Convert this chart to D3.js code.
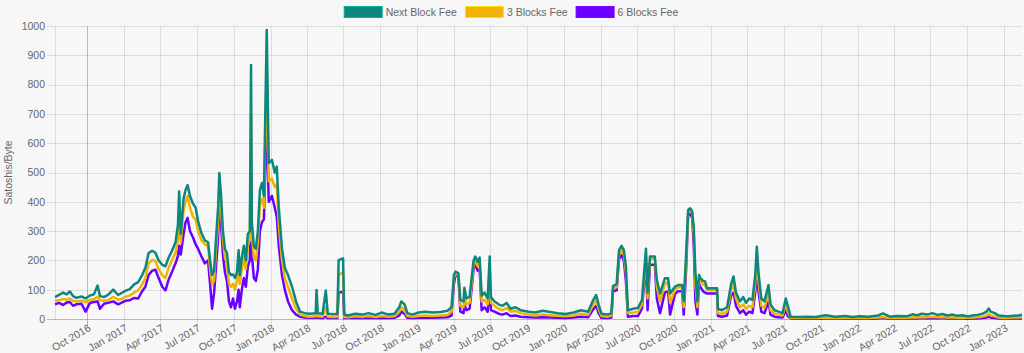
<!DOCTYPE html>
<html>
<head>
<meta charset="utf-8">
<script src="https://cdn.jsdelivr.net/npm/d3@7"></script>
<style>
    html, body { margin: 0; padding: 0; background: #f7f7f7; }
    svg { display: block; }
</style>
</head>
<body>
<div id="chart"></div>
<script>
/*global d3*/
(function () {
    'use strict';

    // one row per year block
    var dates = [
        '2016-07-13', '2016-07-23', '2016-08-02', '2016-08-11', '2016-08-19', '2016-08-27', '2016-09-04', '2016-09-17', '2016-09-27', '2016-10-08',
        '2016-10-18', '2016-10-27', '2016-11-02', '2016-11-12', '2016-11-22', '2016-12-05', '2016-12-17', '2016-12-25',
        '2017-01-04', '2017-01-15', '2017-01-26', '2017-02-05', '2017-02-15', '2017-02-23', '2017-03-03', '2017-03-12', '2017-03-20', '2017-03-28',
        '2017-04-06', '2017-04-14', '2017-04-22', '2017-04-30', '2017-05-09', '2017-05-15', '2017-05-18', '2017-05-22', '2017-05-29', '2017-06-03',
        '2017-06-08', '2017-06-14', '2017-06-21', '2017-06-28', '2017-07-04', '2017-07-12', '2017-07-21', '2017-07-29', '2017-08-03', '2017-08-08',
        '2017-08-13', '2017-08-18', '2017-08-23', '2017-08-26', '2017-08-30', '2017-09-04', '2017-09-09', '2017-09-14', '2017-09-19', '2017-09-24',
        '2017-09-29', '2017-10-04', '2017-10-09', '2017-10-13', '2017-10-16', '2017-10-21', '2017-10-26', '2017-10-31', '2017-11-05', '2017-11-10',
        '2017-11-13', '2017-11-15', '2017-11-20', '2017-11-25', '2017-11-30', '2017-12-05', '2017-12-10', '2017-12-15', '2017-12-22', '2017-12-27',
        '2018-01-04', '2018-01-11', '2018-01-16', '2018-01-21', '2018-01-29', '2018-02-05', '2018-02-13', '2018-02-23', '2018-03-05', '2018-03-15',
        '2018-03-27', '2018-04-08', '2018-04-23', '2018-04-25', '2018-04-28', '2018-05-10', '2018-05-18', '2018-05-23', '2018-06-07', '2018-06-16', '2018-06-19',
        '2018-06-30', '2018-07-03', '2018-07-12', '2018-07-30', '2018-08-17', '2018-09-01', '2018-09-19', '2018-10-04', '2018-10-21', '2018-11-05',
        '2018-11-17', '2018-11-22', '2018-11-30', '2018-12-07', '2018-12-20',
        '2019-01-04', '2019-01-21', '2019-02-08', '2019-02-28', '2019-03-17', '2019-03-27', '2019-04-02', '2019-04-06', '2019-04-13', '2019-04-18',
        '2019-04-26', '2019-04-28', '2019-05-03', '2019-05-11', '2019-05-21', '2019-05-25', '2019-05-31', '2019-06-05', '2019-06-10', '2019-06-17',
        '2019-06-25', '2019-06-30', '2019-07-03', '2019-07-12', '2019-07-22', '2019-08-01', '2019-08-11', '2019-08-21', '2019-09-02', '2019-09-15',
        '2019-10-05', '2019-10-22', '2019-11-09', '2019-11-28', '2019-12-16',
        '2020-01-05', '2020-01-25', '2020-02-12', '2020-03-01', '2020-03-12', '2020-03-21', '2020-03-27', '2020-04-03', '2020-04-19', '2020-04-28',
        '2020-05-02', '2020-05-11', '2020-05-17', '2020-05-23', '2020-05-29', '2020-06-03', '2020-06-08', '2020-06-21', '2020-07-03', '2020-07-13',
        '2020-07-23', '2020-07-27', '2020-08-02', '2020-08-14', '2020-08-19', '2020-08-27', '2020-09-08', '2020-09-16', '2020-09-21', '2020-10-03',
        '2020-10-11', '2020-10-21', '2020-10-25', '2020-10-31', '2020-11-05', '2020-11-10', '2020-11-15', '2020-11-19', '2020-11-23', '2020-11-28',
        '2020-12-02', '2020-12-05', '2020-12-12', '2020-12-17', '2020-12-22',
        '2021-01-16', '2021-01-18', '2021-01-28', '2021-02-10', '2021-02-20', '2021-02-26', '2021-03-04', '2021-03-14', '2021-03-22', '2021-03-29',
        '2021-04-06', '2021-04-14', '2021-04-21', '2021-04-25', '2021-04-29', '2021-05-06', '2021-05-14', '2021-05-24', '2021-05-29', '2021-06-08',
        '2021-06-18', '2021-06-28', '2021-07-06', '2021-07-11', '2021-07-18', '2021-08-11', '2021-08-24', '2021-09-18', '2021-10-13', '2021-11-06',
        '2021-12-01', '2021-12-19',
        '2022-01-07', '2022-01-27', '2022-02-21', '2022-03-05', '2022-03-22', '2022-04-08', '2022-05-03', '2022-05-17', '2022-05-29', '2022-06-10',
        '2022-06-23', '2022-07-06', '2022-07-18', '2022-07-31', '2022-08-12', '2022-08-25', '2022-09-06', '2022-09-19', '2022-10-02', '2022-10-14',
        '2022-10-26', '2022-11-08', '2022-11-18', '2022-11-23', '2022-11-28', '2022-12-08', '2022-12-18', '2022-12-30',
        '2023-01-12', '2023-01-24', '2023-02-05', '2023-02-14'
    ];

    var nextBlockFee = [
        75, 82, 90, 84, 94, 78, 72, 77, 70, 80,
        84, 114, 78, 75, 82, 100, 82, 88,
        96, 102, 118, 126, 150, 175, 225, 233, 226, 200,
        185, 180, 210, 232, 262, 320, 435, 290, 410, 440,
        457, 420, 395, 380, 335, 295, 268, 262, 200, 150,
        165, 280, 380, 498, 430, 300, 240, 225, 160, 150,
        152, 140, 160, 235, 150, 210, 250, 200, 290, 300,
        867, 330, 250, 240, 300, 440, 464, 420, 986, 532,
        543, 500, 520, 380, 240, 175, 150, 110, 60, 25,
        20, 18, 20, 99, 20, 18, 97, 18, 16, 18, 201,
        207, 15, 12, 18, 15, 20, 14, 22, 15, 18,
        40, 60, 50, 20, 15,
        22, 25, 22, 24, 28, 40, 150, 162, 156, 65,
        60, 107, 70, 76, 200, 213, 195, 210, 80, 90,
        70, 213, 75, 60, 50, 45, 55, 35, 40, 30,
        25, 22, 28, 24, 20,
        17, 22, 30, 25, 60, 82, 50, 18, 15, 20,
        113, 118, 235, 250, 235, 180, 30, 35, 38, 64,
        240, 90, 213, 213, 133, 87, 139, 139, 87, 110,
        116, 116, 60, 220, 372, 378, 367, 313, 160, 60,
        150, 140, 130, 128, 105,
        105, 35, 30, 40, 120, 145, 90, 60, 75, 55,
        70, 65, 150, 247, 160, 70, 60, 116, 50, 30,
        25, 20, 70, 45, 8, 7, 8, 7, 13, 8,
        10, 7,
        9, 8, 12, 19, 8, 10, 9, 16, 13, 18,
        15, 20, 14, 17, 12, 15, 11, 13, 9, 12,
        14, 18, 25, 36, 25, 20, 12, 10,
        9, 11, 12, 15
    ];

    var threeBlocksFee = [
        62, 64, 68, 66, 70, 62, 60, 63, 58, 65,
        68, 76, 64, 62, 64, 76, 66, 68,
        76, 80, 90, 98, 118, 140, 190, 202, 198, 170,
        150, 140, 175, 200, 225, 270, 330, 260, 370, 400,
        420, 380, 350, 340, 300, 270, 255, 250, 170, 118,
        130, 240, 330, 440, 380, 270, 210, 190, 120, 110,
        120, 100, 130, 190, 120, 170, 210, 170, 250, 270,
        700, 290, 210, 200, 260, 390, 410, 380, 850, 470,
        480, 450, 460, 320, 200, 140, 110, 70, 35, 15,
        10, 8, 9, 45, 9, 8, 40, 8, 7, 8, 150,
        160, 7, 6, 9, 8, 10, 7, 10, 8, 9,
        25, 40, 30, 10, 8,
        10, 12, 10, 12, 14, 25, 140, 155, 150, 45,
        40, 80, 50, 55, 185, 200, 180, 190, 60, 65,
        50, 180, 55, 45, 35, 30, 38, 25, 28, 20,
        15, 12, 15, 13, 11,
        9, 12, 18, 14, 45, 65, 35, 10, 8, 12,
        105, 108, 220, 235, 220, 160, 20, 22, 25, 50,
        215, 70, 205, 205, 110, 60, 120, 125, 55, 100,
        108, 108, 40, 200, 365, 370, 360, 290, 120, 40,
        140, 130, 118, 115, 98,
        98, 20, 18, 25, 100, 120, 70, 40, 50, 35,
        45, 40, 120, 210, 130, 45, 38, 90, 30, 18,
        15, 12, 50, 25, 4, 3, 4, 3, 5, 4,
        4, 3,
        4, 3, 5, 7, 3, 4, 4, 6, 5, 7,
        6, 8, 6, 7, 5, 6, 4, 5, 4, 5,
        6, 8, 12, 18, 12, 9, 5, 4,
        4, 5, 5, 6
    ];

    var sixBlocksFee = [
        50, 55, 48, 56, 58, 45, 50, 52, 25, 55,
        58, 60, 35, 52, 55, 60, 50, 55,
        62, 64, 72, 70, 95, 110, 150, 165, 168, 140,
        110, 98, 135, 160, 190, 215, 250, 220, 290, 330,
        345, 300, 280, 255, 240, 215, 190, 200, 120, 35,
        90, 180, 280, 400, 330, 220, 160, 130, 60, 40,
        70, 35, 60, 100, 40, 100, 140, 110, 180, 200,
        480, 220, 140, 130, 170, 300, 330, 340, 690, 400,
        420, 380, 350, 250, 150, 100, 60, 30, 15, 8,
        5, 4, 4, 10, 4, 3, 8, 3, 3, 3, 90,
        93, 3, 3, 4, 3, 4, 3, 4, 3, 4,
        12, 25, 18, 4, 3,
        4, 5, 4, 5, 6, 12, 120, 150, 145, 25,
        20, 50, 30, 35, 170, 185, 165, 170, 30, 40,
        25, 130, 30, 25, 18, 15, 20, 10, 12, 8,
        6, 5, 6, 5, 4,
        3, 5, 8, 6, 30, 45, 20, 4, 3, 5,
        95, 98, 205, 218, 200, 130, 8, 10, 10, 35,
        190, 30, 185, 185, 70, 20, 90, 95, 15, 85,
        95, 95, 15, 170, 355, 360, 345, 250, 60, 15,
        120, 110, 95, 90, 87,
        87, 10, 8, 12, 80, 90, 45, 20, 30, 15,
        25, 20, 90, 170, 95, 25, 20, 60, 15, 8,
        6, 5, 30, 10, 2, 1, 2, 1, 2, 2,
        2, 1,
        2, 1, 2, 3, 1, 2, 2, 2, 2, 3,
        2, 3, 2, 3, 2, 2, 2, 2, 1, 2,
        2, 3, 5, 8, 5, 3, 2, 2,
        2, 2, 2, 2
    ];

    var yTicks = [0, 100, 200, 300, 400, 500, 600, 700, 800, 900, 1000];
    var seriesNames = ['Next Block Fee', '3 Blocks Fee', '6 Blocks Fee'];
    var seriesColors = ['#0b877d', '#f2b300', '#6a00ff'];

    var width = 1024,
        height = 353,
        left = 55,
        right = 1022,
        top = 26,
        bottom = 319,
        font = '"Liberation Sans", Arial, sans-serif',
        textColor = '#666',
        gridColor = 'rgba(0,0,0,0.1)',
        zeroColor = 'rgba(0,0,0,0.25)';

    var parseDate = d3.timeParse('%Y-%m-%d'),
        days = dates.map(parseDate),
        series = [nextBlockFee, threeBlocksFee, sixBlocksFee].map(function (values, i) {
            return {
                name: seriesNames[i],
                color: seriesColors[i],
                points: values.map(function (v, j) {
                    return { date: days[j], value: v };
                })
            };
        });

    var svg = d3.select('#chart')
        .append('svg')
        .attr('width', width)
        .attr('height', height)
        .style('font-family', font);

    svg.append('rect')
        .attr('width', width)
        .attr('height', height)
        .style('fill', '#f7f7f7');

    var x = d3.scaleTime().domain(d3.extent(days)).range([left, right]),
        y = d3.scaleLinear().domain([0, 1000]).range([bottom, top]);

    // horizontal grid + y labels
    var gy = svg.append('g')
        .attr('transform', 'translate(' + right + ',0)')
        .call(d3.axisLeft(y).tickValues(yTicks).tickFormat(d3.format('d')).tickSize(right - 47).tickPadding(2))
        .attr('font-family', font)
        .attr('font-size', 10.5);
    gy.select('.domain').remove();
    gy.selectAll('line')
        .attr('stroke', function (d) { return d === 0 ? zeroColor : gridColor; })
        .attr('shape-rendering', 'crispEdges');
    gy.selectAll('text').attr('fill', textColor);

    // vertical grid + rotated x labels
    var xTicks = x.ticks(d3.timeMonth.every(3));
    var gx = svg.append('g')
        .attr('transform', 'translate(0,' + top + ')')
        .call(d3.axisBottom(x).tickValues(xTicks).tickFormat(d3.timeFormat('%b %Y')).tickSize(bottom + 8 - top))
        .attr('font-family', font)
        .attr('font-size', 10.5);
    gx.select('.domain').remove();
    gx.selectAll('line')
        .attr('stroke', function (d, i) { return i === 0 ? zeroColor : gridColor; })
        .attr('shape-rendering', 'crispEdges');
    gx.selectAll('text')
        .attr('y', 0)
        .attr('dy', '0.35em')
        .attr('text-anchor', 'end')
        .attr('fill', textColor)
        .attr('transform', 'translate(2,' + (bottom - top + 8) + ') rotate(-30)');

    // left border
    svg.append('line')
        .attr('x1', left).attr('x2', left)
        .attr('y1', top).attr('y2', bottom)
        .attr('stroke', gridColor)
        .attr('shape-rendering', 'crispEdges');

    svg.append('text')
        .attr('transform', 'translate(12,' + ((top + bottom) / 2) + ') rotate(-90)')
        .attr('text-anchor', 'middle')
        .style('font-size', '10.5px')
        .style('fill', textColor)
        .text('Satoshis/Byte');

    var line = d3.line()
        .x(function (d) { return x(d.date); })
        .y(function (d) { return y(d.value); });

    // first dataset ends up on top
    svg.append('g')
        .selectAll('path')
        .data(series.slice().reverse())
        .enter()
        .append('path')
        .attr('d', function (d) { return line(d.points); })
        .style('fill', 'none')
        .style('stroke', function (d) { return d.color; })
        .style('stroke-width', 2.5)
        .style('stroke-linejoin', 'round');

    // legend
    var legend = svg.append('g'),
        boxW = 38,
        cursor = 0;
    series.forEach(function (s) {
        var item = legend.append('g').attr('transform', 'translate(' + cursor + ',0)');
        item.append('rect')
            .attr('x', 0.5).attr('y', 6.5)
            .attr('width', boxW).attr('height', 11)
            .style('fill', s.color)
            .style('stroke', d3.color(s.color).brighter(0.7))
            .style('stroke-width', 1);
        var t = item.append('text')
            .attr('x', boxW + 4)
            .attr('y', 12)
            .attr('dy', '0.35em')
            .style('font-size', '10.5px')
            .style('fill', textColor)
            .text(s.name);
        cursor += boxW + 4 + t.node().getComputedTextLength() + 8;
    });
    legend.attr('transform', 'translate(' + (511 - (cursor - 8) / 2) + ',0)');
}());
</script>
</body>
</html>
